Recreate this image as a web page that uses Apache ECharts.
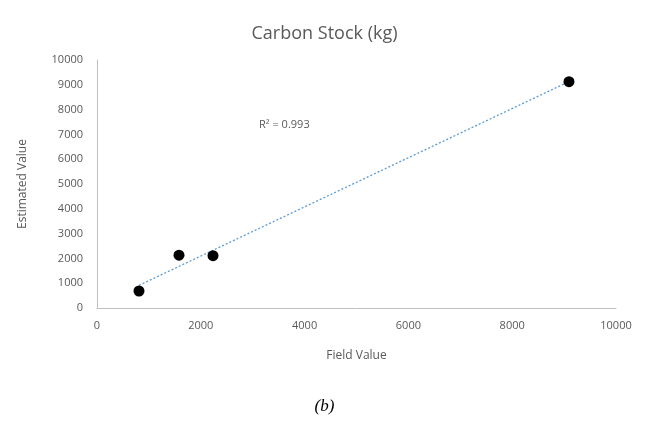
<!DOCTYPE html>
<html>
<head>
<meta charset="utf-8">
<script src="https://cdn.jsdelivr.net/npm/echarts@6/dist/echarts.min.js"></script>
<style>html,body{margin:0;padding:0;background:#fff}#c{width:649px;height:424px}</style>
</head>
<body>
<div id="c"></div>
<script>
const fieldValues = [809, 1580, 2235, 9094];
const estimatedValues = [686, 2128, 2110, 9124];
const xTicks = [0, 2000, 4000, 6000, 8000, 10000];
const yTicks = [0, 1000, 2000, 3000, 4000, 5000, 6000, 7000, 8000, 9000, 10000];
const titleText = 'Carbon Stock (kg)';
const r2Text = 'R² = 0.993';
const captionText = '(b)';

// least-squares linear trendline across the data range
const n = fieldValues.length;
const mx = fieldValues.reduce((a, b) => a + b, 0) / n;
const my = estimatedValues.reduce((a, b) => a + b, 0) / n;
let sxy = 0, sxx = 0;
for (let i = 0; i < n; i++) { sxy += (fieldValues[i] - mx) * (estimatedValues[i] - my); sxx += (fieldValues[i] - mx) ** 2; }
const slope = sxy / sxx, intercept = my - slope * mx;
const xMin = Math.min(...fieldValues), xMax = Math.max(...fieldValues);
const trend = [[xMin, intercept + slope * xMin], [xMax, intercept + slope * xMax]];

const chart = echarts.init(document.getElementById('c'));
const font = 'Open Sans';
chart.setOption({
  animation: false,
  backgroundColor: '#fff',
  title: { text: titleText, left: 'center', top: 20, textStyle: { fontFamily: font, fontSize: 18, fontWeight: 'normal', color: '#595959' } },
  grid: { left: 97, right: 33, top: 60, bottom: 116 },
  xAxis: {
    type: 'value', min: 0, max: 10000, interval: 2000,
    name: 'Field Value', nameLocation: 'middle', nameGap: 42,
    nameTextStyle: { fontFamily: font, fontSize: 12, color: '#595959' },
    axisLine: { lineStyle: { color: '#BFBFBF', width: 1 } },
    axisTick: { show: false }, splitLine: { show: false },
    axisLabel: { fontFamily: font, fontSize: 11, color: '#595959', margin: 12, formatter: v => String(v) }
  },
  yAxis: {
    type: 'value', min: 0, max: 10000, interval: 1000,
    name: 'Estimated Value', nameLocation: 'middle', nameGap: 68,
    nameTextStyle: { fontFamily: font, fontSize: 12, color: '#595959' },
    axisLine: { show: true, lineStyle: { color: '#BFBFBF', width: 1 } },
    axisTick: { show: false }, splitLine: { show: false },
    axisLabel: { fontFamily: font, fontSize: 11, color: '#595959', margin: 14, formatter: v => String(v) }
  },
  series: [
    { type: 'line', data: trend, showSymbol: false, symbol: 'none', silent: true,
      lineStyle: { color: '#5B9BD5', width: 1.3, type: [2, 2] }, z: 1 },
    { type: 'scatter', data: fieldValues.map((x, i) => [x, estimatedValues[i]]),
      symbolSize: 11, itemStyle: { color: '#000', opacity: 1 }, z: 2 }
  ],
  graphic: [
    { type: 'text', left: 259, top: 119, style: { text: r2Text, font: '11px "Open Sans"', fill: '#595959' } },
    { type: 'text', left: 'center', top: 398, style: { text: captionText, font: 'italic 17px "Liberation Serif"', fill: '#000' } }
  ]
});
</script>
</body>
</html>
